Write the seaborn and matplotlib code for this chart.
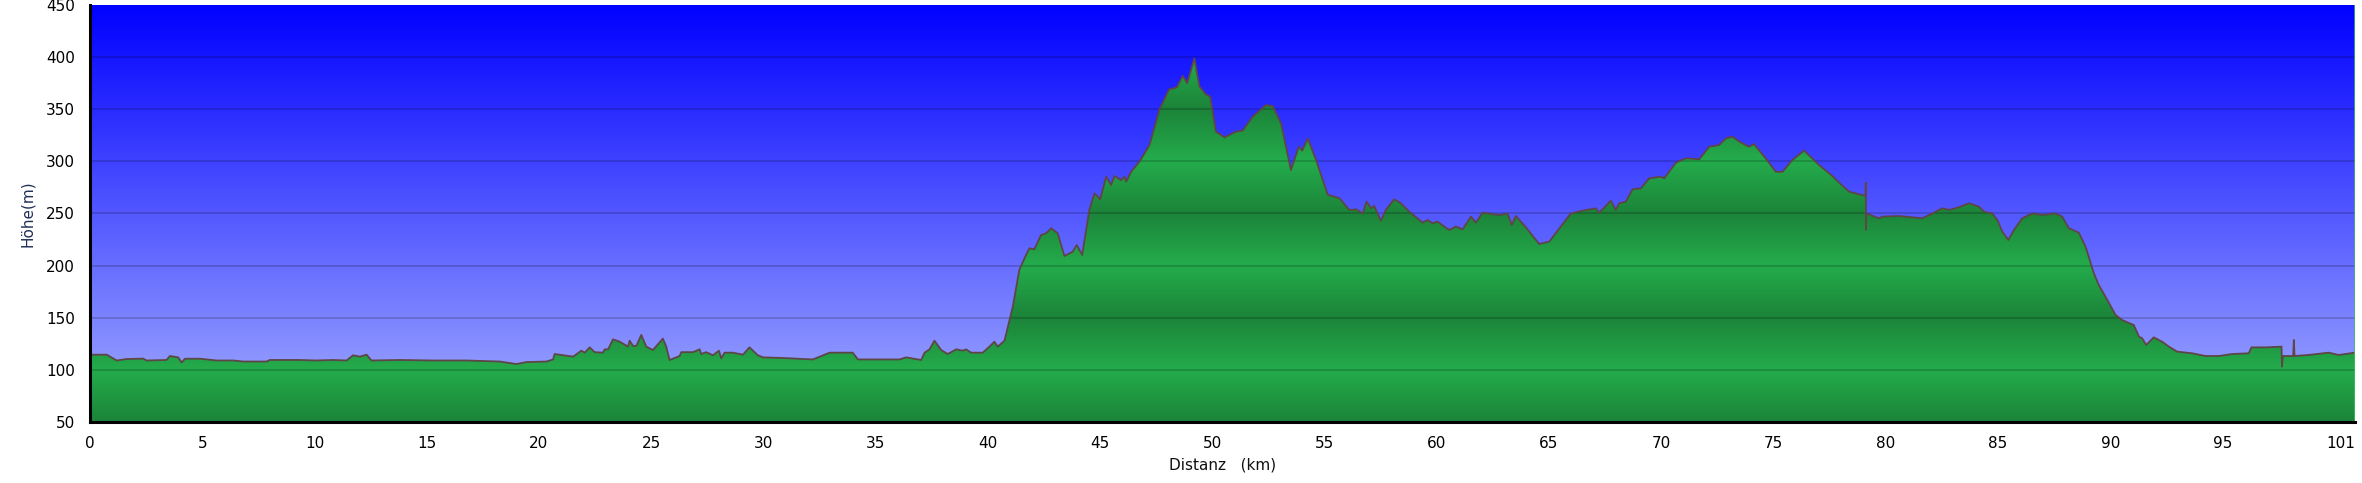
import numpy as np
import pandas as pd
import matplotlib
matplotlib.use("Agg")
import matplotlib.pyplot as plt
import seaborn as sns

#Estilo
sns.set_style("white")
plt.rcParams['font.family'] = ['DejaVu Sans']

#Datos del perfil (km, m)
distanz = [0.0, 0.74, 1.19, 1.63, 2.37, 2.52, 3.41, 3.56, 3.93, 4.08, 4.23, 4.9, 5.64, 6.38, 6.83,
           7.87, 8.01, 9.35, 10.09, 10.83, 11.43, 11.72, 12.02, 12.32, 12.54, 13.8, 15.28, 16.77,
           18.25, 19.0, 19.44, 20.33, 20.63, 20.7, 21.52, 21.89, 22.04, 22.26, 22.48, 22.85, 22.93,
           23.08, 23.3, 23.6, 23.97, 24.04, 24.19, 24.34, 24.56, 24.78, 25.08, 25.52, 25.67, 25.82,
           26.27, 26.34, 26.86, 27.16, 27.23, 27.45, 27.75, 28.02, 28.12, 28.27, 28.64, 29.09, 29.38,
           29.75, 29.98, 30.87, 31.46, 32.2, 32.95, 33.98, 34.21, 36.06, 36.36, 37.03, 37.18, 37.4,
           37.62, 37.92, 38.21, 38.59, 38.88, 39.03, 39.25, 39.77, 40.07, 40.29, 40.44, 40.74, 41.11,
           41.4, 41.63, 41.85, 42.07, 42.37, 42.59, 42.82, 43.11, 43.41, 43.78, 43.96, 44.2, 44.52,
           44.75, 45.0, 45.27, 45.49, 45.64, 45.93, 46.08, 46.16, 46.38, 46.75, 47.2, 47.64, 48.07,
           48.42, 48.68, 48.88, 49.2, 49.42, 49.69, 49.9, 50.16, 50.54, 51.05, 51.35, 51.8, 52.39,
           52.69, 53.06, 53.5, 53.85, 54.0, 54.25, 54.62, 55.14, 55.66, 56.1, 56.4, 56.7, 56.87,
           57.07, 57.21, 57.51, 57.73, 58.1, 58.4, 58.77, 59.37, 59.59, 59.81, 60.03, 60.55, 60.85,
           61.15, 61.52, 61.74, 62.04, 62.78, 63.15, 63.34, 63.52, 63.97, 64.56, 65.01, 65.97, 66.49,
           67.08, 67.23, 67.53, 67.75, 67.97, 68.12, 68.42, 68.72, 69.09, 69.46, 69.98, 70.13, 70.65,
           71.09, 71.69, 72.13, 72.58, 72.87, 73.17, 73.47, 73.91, 74.13, 74.65, 75.1, 75.4, 75.84,
           76.36, 77.03, 77.62, 77.92, 78.36, 79.1, 79.11, 79.12, 79.13, 79.7, 79.85, 80.59, 81.63,
           82.07, 82.52, 82.82, 83.26, 83.71, 84.15, 84.37, 84.75, 84.97, 85.19, 85.46, 85.71, 86.08,
           86.53, 86.97, 87.56, 87.86, 88.16, 88.6, 88.9, 89.27, 89.49, 89.87, 90.24, 90.53, 91.05,
           91.28, 91.42, 91.6, 91.94, 92.31, 92.61, 92.98, 93.65, 94.24, 94.84, 95.43, 96.17, 96.29,
           96.92, 97.63, 97.65, 97.69, 98.15, 98.18, 98.21, 98.84, 99.73, 100.18, 100.9]
hoehe = [114.5, 114.6, 109, 110.4, 110.8, 109, 109.5, 113.3, 112, 107, 110.7, 110.7, 109, 109, 108,
         108, 109.5, 109.5, 109, 109.5, 109, 114, 112.7, 114.6, 109, 109.5, 109, 109,
         108, 105.6, 107.5, 108, 110, 115.2, 112.7, 118.4, 116.5, 121.6, 117, 116.5, 119.7,
         119.7, 129.3, 127, 122.3, 128, 123, 123, 133.5, 122.3, 119, 130, 122.3, 109.5,
         113.3, 117, 117, 119.7, 115.2, 117, 114, 118.4, 111, 116.5, 116.5, 114.6, 121.6,
         114, 112, 111.4, 110.8, 110, 116.5, 116.5, 110, 110, 112, 109.5, 116.5, 119.7,
         128, 119, 115.2, 119.7, 118.4, 119.7, 116.5, 116.5, 122.3, 127, 122.3, 128, 160.6,
         195.8, 207, 216.6, 215.6, 229.4, 231, 235.8, 231, 209.2, 213.4, 219.8, 210.2, 253.4,
         269.3, 263.6, 285.3, 277.3, 286, 282, 285.3, 280.5, 290, 299.7, 315.7, 349.5, 369,
         371, 382, 375, 398.8, 372, 364.6, 362, 328.5, 323, 328.5, 329.5, 343, 354,
         353, 336.4, 291.7, 314, 310.3, 322, 301.3, 268, 264.6, 253.4, 254, 250, 261.4,
         255, 257.2, 243, 253.4, 263.6, 259.8, 251.8, 241.2, 243.8, 240.6, 242.2, 234.2, 237.4,
         234.8, 247, 241.2, 250.8, 248.5, 250, 239, 247.6, 236.7, 220.7, 223, 250, 252.7,
         255, 250.8, 257.2, 262.3, 253.4, 259.8, 261.4, 273.2, 274.1, 283.7, 285.3, 283.7, 298.7,
         302.9, 302, 314, 315.7, 322, 323.7, 319, 314, 316.6, 302.9, 290, 290, 301.3,
         310.3, 296.5, 286, 279.6, 271, 266.8, 279.6, 234.2, 250, 245.4, 247, 247.6, 245.4,
         250, 255, 253.4, 256, 259.8, 256.6, 251.8, 250, 243.8, 232.6, 224.6, 234.2, 245.4,
         250, 248.6, 250, 247, 235.8, 231.6, 218.2, 192.6, 181.4, 167, 152.6, 147.8, 143,
         131.9, 130.3, 123.9, 131.2, 127, 122.3, 117.5, 115.9, 113.3, 113.3, 115.2, 115.9, 121.6,
         121.6, 122.3, 103, 113.3, 113.3, 128.7, 113.3, 114.3, 116.5, 114.3, 116.5]

x_ticks = [0, 5, 10, 15, 20, 25, 30, 35, 40, 45, 50, 55, 60, 65, 70, 75, 80, 85, 90, 95, 100.9]
x_tick_labels = ['0', '5', '10', '15', '20', '25', '30', '35', '40', '45', '50', '55', '60',
                 '65', '70', '75', '80', '85', '90', '95', '101']
y_ticks = [50, 100, 150, 200, 250, 300, 350, 400, 450]

df = pd.DataFrame({'Distanz': distanz, 'Hoehe': hoehe})
x_max = x_ticks[-1]
y_min, y_max = y_ticks[0], y_ticks[-1]

fig = plt.figure(figsize=(23.62, 4.83), dpi=100)
ax = fig.add_axes([0.0381, 0.1263, 0.9589, 0.8634])

#Fondo azul en degradado
t = np.linspace(0, 1, 400)[:, None]  # 0 abajo, 1 arriba
azul = np.dstack([165 * (1 - t), 175 * (1 - t), np.full_like(t, 255)]) / 255.0
ax.imshow(azul, extent=[0, x_max, y_min, y_max], aspect='auto', origin='lower', zorder=0)

#Relleno verde en bandas
ys = np.linspace(y_min, y_max, 800)
fase = np.abs(((ys - 100) / 100.0) - np.round((ys - 100) / 100.0)) * 2  # 0 en 100,200..., 1 en 150,250...
claro = np.array([36, 172, 76]) / 255.0
oscuro = np.array([28, 132, 57]) / 255.0
verde = (claro[None, :] * (1 - fase[:, None]) + oscuro[None, :] * fase[:, None])[:, None, :]
poly = ax.fill_between(df['Distanz'], df['Hoehe'], y_min, facecolor='none', edgecolor='none')
im = ax.imshow(verde, extent=[0, x_max, y_min, y_max], aspect='auto', origin='lower', zorder=1)
im.set_clip_path(poly.get_paths()[0], transform=ax.transData)

#Líneas de la cuadrícula
for yv in y_ticks[1:-1]:
    ax.axhline(yv, color='black', alpha=0.22, lw=1.1, zorder=2)

#Contorno del perfil
sns.lineplot(data=df, x='Distanz', y='Hoehe', ax=ax, color='#5e4646', lw=1.3,
             sort=False, estimator=None, zorder=3)

ax.axvline(x_max, color='#3cbf5c', lw=1.8, zorder=4)

#Ejes
ax.set_xlim(0, x_max)
ax.set_ylim(y_min, y_max)
ax.set_xticks(x_ticks)
ax.set_xticklabels(x_tick_labels)
ax.set_yticks(y_ticks)
ax.tick_params(axis='both', direction='out', length=6, width=1.5, color='black',
               labelsize=11, labelcolor='black')
ax.tick_params(axis='y', pad=5)
ax.tick_params(axis='x', pad=4)
ax.get_xticklabels()[-1].set_horizontalalignment('right')
for s in ['top', 'right']:
    ax.spines[s].set_visible(False)
for s in ['left', 'bottom']:
    ax.spines[s].set_color('black')
    ax.spines[s].set_linewidth(2.2)
    ax.spines[s].set_zorder(5)
ax.grid(False)

ax.set_xlabel('Distanz   (km)', fontsize=11, color='#111111', labelpad=5)
ax.set_ylabel('Höhe(m)', fontsize=11, color='#1f2f55', labelpad=8)

fig.savefig('out.png', dpi=100)
